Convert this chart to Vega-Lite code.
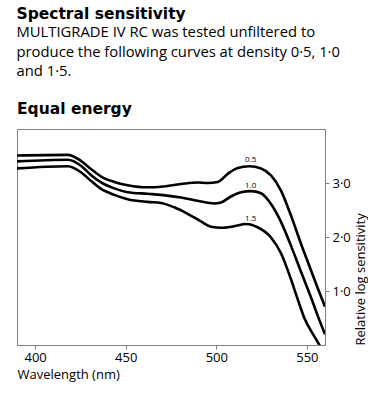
{
  "$schema": "https://vega.github.io/schema/vega-lite/v6.json",
  "background": "white",
  "padding": {"left": 16, "top": 6, "right": 0, "bottom": 0},
  "title": {
    "text": "Spectral sensitivity",
    "subtitle": ["MULTIGRADE IV RC was tested unfiltered to", "produce the following curves at density 0·5, 1·0", "and 1·5."],
    "anchor": "start",
    "frame": "bounds",
    "font": "DejaVu Sans",
    "fontSize": 15.5,
    "fontWeight": "bold",
    "color": "black",
    "subtitleFont": "Open Sans",
    "subtitleFontSize": 14.8,
    "subtitleColor": "black",
    "subtitleLineHeight": 19.5,
    "subtitlePadding": 3,
    "offset": 22
  },
  "config": {
    "view": {"stroke": "#808080", "strokeWidth": 1},
    "axis": {"domainColor": "#808080", "tickColor": "#808080", "grid": false, "labelFont": "Open Sans", "titleFont": "Open Sans", "labelColor": "black", "titleColor": "black", "labelFontSize": 13, "titleFontSize": 13, "titleFontWeight": "normal"}
  },
  "vconcat": [
    {
      "width": 308,
      "height": 216,
      "title": {"text": "Equal energy", "anchor": "start", "font": "DejaVu Sans", "fontSize": 15.5, "fontWeight": "bold", "color": "black", "offset": 12},
      "layer": [
        {
          "data": {"values": [
            {"wl": 390, "s": 3.51, "curve": "0.5"},
            {"wl": 418, "s": 3.52, "curve": "0.5"},
            {"wl": 425.3, "s": 3.41, "curve": "0.5"},
            {"wl": 430.8, "s": 3.26, "curve": "0.5"},
            {"wl": 436.4, "s": 3.12, "curve": "0.5"},
            {"wl": 443.7, "s": 3.02, "curve": "0.5"},
            {"wl": 451.1, "s": 2.96, "curve": "0.5"},
            {"wl": 462.1, "s": 2.92, "curve": "0.5"},
            {"wl": 469.5, "s": 2.93, "curve": "0.5"},
            {"wl": 480.5, "s": 2.98, "curve": "0.5"},
            {"wl": 489.7, "s": 3.01, "curve": "0.5"},
            {"wl": 495.2, "s": 3.0, "curve": "0.5"},
            {"wl": 500.8, "s": 3.02, "curve": "0.5"},
            {"wl": 506.3, "s": 3.17, "curve": "0.5"},
            {"wl": 511.8, "s": 3.28, "curve": "0.5"},
            {"wl": 518.2, "s": 3.31, "curve": "0.5"},
            {"wl": 524.7, "s": 3.27, "curve": "0.5"},
            {"wl": 530.2, "s": 3.14, "curve": "0.5"},
            {"wl": 535.7, "s": 2.86, "curve": "0.5"},
            {"wl": 541.2, "s": 2.4, "curve": "0.5"},
            {"wl": 546.7, "s": 1.88, "curve": "0.5"},
            {"wl": 552.3, "s": 1.38, "curve": "0.5"},
            {"wl": 556.0, "s": 1.05, "curve": "0.5"},
            {"wl": 560, "s": 0.71, "curve": "0.5"},
            {"wl": 390, "s": 3.4, "curve": "1.0"},
            {"wl": 418, "s": 3.43, "curve": "1.0"},
            {"wl": 425.3, "s": 3.32, "curve": "1.0"},
            {"wl": 430.8, "s": 3.15, "curve": "1.0"},
            {"wl": 436.4, "s": 3.01, "curve": "1.0"},
            {"wl": 443.7, "s": 2.9, "curve": "1.0"},
            {"wl": 451.1, "s": 2.83, "curve": "1.0"},
            {"wl": 462.1, "s": 2.8, "curve": "1.0"},
            {"wl": 469.5, "s": 2.78, "curve": "1.0"},
            {"wl": 480.5, "s": 2.73, "curve": "1.0"},
            {"wl": 489.7, "s": 2.67, "curve": "1.0"},
            {"wl": 498.9, "s": 2.62, "curve": "1.0"},
            {"wl": 502.6, "s": 2.64, "curve": "1.0"},
            {"wl": 508.1, "s": 2.75, "curve": "1.0"},
            {"wl": 513.7, "s": 2.83, "curve": "1.0"},
            {"wl": 519.1, "s": 2.85, "curve": "1.0"},
            {"wl": 524.7, "s": 2.81, "curve": "1.0"},
            {"wl": 530.2, "s": 2.61, "curve": "1.0"},
            {"wl": 535.7, "s": 2.28, "curve": "1.0"},
            {"wl": 541.2, "s": 1.84, "curve": "1.0"},
            {"wl": 546.7, "s": 1.36, "curve": "1.0"},
            {"wl": 552.3, "s": 0.88, "curve": "1.0"},
            {"wl": 556.0, "s": 0.54, "curve": "1.0"},
            {"wl": 560, "s": 0.2, "curve": "1.0"},
            {"wl": 390, "s": 3.27, "curve": "1.5"},
            {"wl": 418, "s": 3.31, "curve": "1.5"},
            {"wl": 425.3, "s": 3.2, "curve": "1.5"},
            {"wl": 430.8, "s": 3.04, "curve": "1.5"},
            {"wl": 436.4, "s": 2.89, "curve": "1.5"},
            {"wl": 443.7, "s": 2.78, "curve": "1.5"},
            {"wl": 451.1, "s": 2.7, "curve": "1.5"},
            {"wl": 462.1, "s": 2.65, "curve": "1.5"},
            {"wl": 469.5, "s": 2.63, "curve": "1.5"},
            {"wl": 476.8, "s": 2.55, "curve": "1.5"},
            {"wl": 484.2, "s": 2.43, "curve": "1.5"},
            {"wl": 491.5, "s": 2.29, "curve": "1.5"},
            {"wl": 497.1, "s": 2.19, "curve": "1.5"},
            {"wl": 502.6, "s": 2.17, "curve": "1.5"},
            {"wl": 509.9, "s": 2.2, "curve": "1.5"},
            {"wl": 516.4, "s": 2.24, "curve": "1.5"},
            {"wl": 522.8, "s": 2.18, "curve": "1.5"},
            {"wl": 530.2, "s": 1.99, "curve": "1.5"},
            {"wl": 535.7, "s": 1.7, "curve": "1.5"},
            {"wl": 541.2, "s": 1.22, "curve": "1.5"},
            {"wl": 544.9, "s": 0.85, "curve": "1.5"},
            {"wl": 548.6, "s": 0.5, "curve": "1.5"},
            {"wl": 554.1, "s": 0.16, "curve": "1.5"},
            {"wl": 556.9, "s": 0.0, "curve": "1.5"},
            {"wl": 560, "s": -0.2, "curve": "1.5"}
          ]},
          "mark": {"type": "line", "interpolate": "monotone", "color": "black", "strokeWidth": 2.6, "clip": true},
          "encoding": {
            "x": {"field": "wl", "type": "quantitative", "scale": {"domain": [390, 560], "nice": false, "zero": false},
              "axis": {"values": [400, 450, 500, 550], "title": "Wavelength (nm)", "titleAnchor": "start", "titlePadding": 4, "tickSize": 4, "labelPadding": 2}},
            "y": {"field": "s", "type": "quantitative", "scale": {"domain": [0, 4], "nice": false},
              "axis": {"orient": "right", "values": [1, 2, 3], "labelExpr": "replace(format(datum.value, '.1f'), '.', '·')", "title": "Relative log sensitivity", "titleAngle": 270, "titleAnchor": "start", "titleAlign": "left", "titleBaseline": "top", "titlePadding": 4, "tickSize": 4, "labelPadding": 3}},
            "detail": {"field": "curve"}
          }
        },
        {
          "data": {"values": [
            {"wl": 519, "s": 3.43, "label": "0.5"},
            {"wl": 519, "s": 2.95, "label": "1.0"},
            {"wl": 519, "s": 2.33, "label": "1.5"}
          ]},
          "mark": {"type": "text", "font": "Open Sans", "fontSize": 8, "color": "black", "baseline": "middle"},
          "encoding": {
            "x": {"field": "wl", "type": "quantitative"},
            "y": {"field": "s", "type": "quantitative"},
            "text": {"field": "label"}
          }
        }
      ]
    }
  ]
}
